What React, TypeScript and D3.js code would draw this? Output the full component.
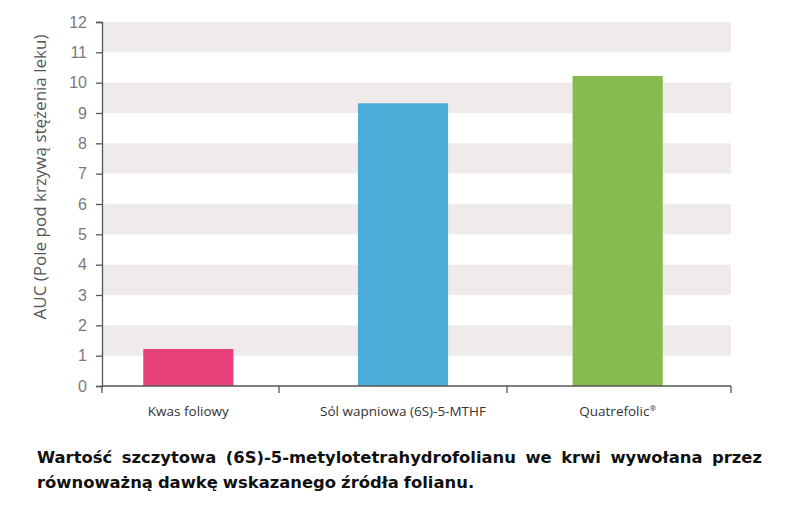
import { useEffect, useRef } from 'react';
import * as d3 from 'd3';

const categories = ['Kwas foliowy', 'Sól wapniowa (6S)-5-MTHF', 'Quatrefolic'];
const auc = [1.22, 9.32, 10.22];
const barColors = ['#e8407a', '#4badd8', '#86bc4f'];
const yTicks = [0, 1, 2, 3, 4, 5, 6, 7, 8, 9, 10, 11, 12];
const stripes = [1, 3, 5, 7, 9, 11];
const yTitle = 'AUC (Pole pod krzywą stężenia leku)';
const captionLines = [
  'Wartość szczytowa (6S)-5-metylotetrahydrofolianu we krwi wywołana przez',
  'równoważną dawkę wskazanego źródła folianu.',
];

export default function App() {
  const svgRef = useRef<SVGSVGElement | null>(null);

  useEffect(() => {
    document.body.style.margin = '0';
    if (!svgRef.current) return;
    const svg = d3.select(svgRef.current);
    svg.selectAll('*').remove();

    const width = 800;
    const height = 514;
    const margin = { top: 22, right: 69, bottom: 128, left: 102 };
    svg.attr('viewBox', `0 0 ${width} ${height}`);

    const y = d3
      .scaleLinear()
      .domain([0, 12])
      .range([height - margin.bottom, margin.top]);

    const x = d3
      .scaleBand()
      .domain(categories)
      .range([81, 725])
      .paddingInner(0.58)
      .paddingOuter(0.29);

    const x0 = margin.left;
    const x1 = width - margin.right;

    // grey stripes
    svg
      .append('g')
      .selectAll('rect')
      .data(stripes)
      .join('rect')
      .attr('x', x0)
      .attr('y', (d) => y(d + 1))
      .attr('width', x1 - x0)
      .attr('height', (d) => y(d) - y(d + 1))
      .attr('fill', '#efebea');

    // bars
    svg
      .append('g')
      .selectAll('rect')
      .data(categories)
      .join('rect')
      .attr('x', (d) => x(d)!)
      .attr('width', x.bandwidth())
      .attr('y', (_, i) => y(auc[i]))
      .attr('height', (_, i) => y(0) - y(auc[i]))
      .attr('fill', (_, i) => barColors[i]);

    // y axis
    const yAxis = svg
      .append('g')
      .attr('transform', `translate(${x0},0)`)
      .call(
        d3
          .axisLeft(y)
          .tickValues(yTicks)
          .tickSize(6)
          .tickPadding(9)
          .tickFormat(d3.format('d'))
      );
    yAxis.select('.domain').attr('stroke', '#555').attr('stroke-width', 1.3);
    yAxis.selectAll('.tick line').attr('stroke', '#555').attr('stroke-width', 1.3);
    yAxis
      .selectAll('.tick text')
      .style('font-family', '"Liberation Sans", Arial, sans-serif')
      .style('font-size', '16px')
      .style('fill', '#7a7a7a');

    // x axis
    const bounds = [x0, 279, 507, x1];
    const xg = svg.append('g');
    xg.append('line')
      .attr('x1', x0)
      .attr('x2', x1)
      .attr('y1', y(0))
      .attr('y2', y(0))
      .attr('stroke', '#555')
      .attr('stroke-width', 1.3);
    xg.selectAll('line.tk')
      .data(bounds)
      .join('line')
      .attr('class', 'tk')
      .attr('x1', (d) => d)
      .attr('x2', (d) => d)
      .attr('y1', y(0))
      .attr('y2', y(0) + 7)
      .attr('stroke', '#555')
      .attr('stroke-width', 1.3);
    const labels = xg
      .selectAll('text')
      .data(categories)
      .join('text')
      .attr('x', (d) => x(d)! + x.bandwidth() / 2)
      .attr('y', y(0) + 30)
      .attr('text-anchor', 'middle')
      .style('font-family', '"Open Sans", sans-serif')
      .style('font-size', '13.5px')
      .style('fill', '#333')
      .text((d) => d);
    labels
      .filter((d) => d === 'Quatrefolic')
      .append('tspan')
      .attr('dy', -5)
      .style('font-size', '8px')
      .text('®');

    // y title
    svg
      .append('text')
      .attr('transform', `translate(46,${(y(0) + y(12)) / 2 - 27}) rotate(-90)`)
      .attr('text-anchor', 'middle')
      .style('font-family', '"Open Sans", sans-serif')
      .style('font-size', '17px')
      .style('fill', '#555')
      .text(yTitle);

    // caption, first line justified
    const capLeft = 37;
    const capRight = 762;
    captionLines.forEach((line, li) => {
      const words = line.split(' ');
      const baseY = 463 + li * 25;
      const g = svg.append('g');
      const texts = g
        .selectAll('text')
        .data(words)
        .join('text')
        .attr('y', baseY)
        .style('font-family', '"DejaVu Sans", sans-serif')
        .style('font-weight', 'bold')
        .style('font-size', '16.4px')
        .style('fill', '#111')
        .text((d) => d);
      const widths: number[] = [];
      texts.each(function () {
        widths.push((this as SVGTextElement).getComputedTextLength());
      });
      const total = d3.sum(widths);
      const gap =
        li === 0 && words.length > 1
          ? (capRight - capLeft - total) / (words.length - 1)
          : 5;
      let cx = capLeft;
      texts.attr('x', (_, i) => {
        const pos = cx;
        cx += widths[i] + gap;
        return pos;
      });
    });
  }, []);

  return <svg ref={svgRef} width={800} height={514} style={{ display: 'block' }} />;
}
